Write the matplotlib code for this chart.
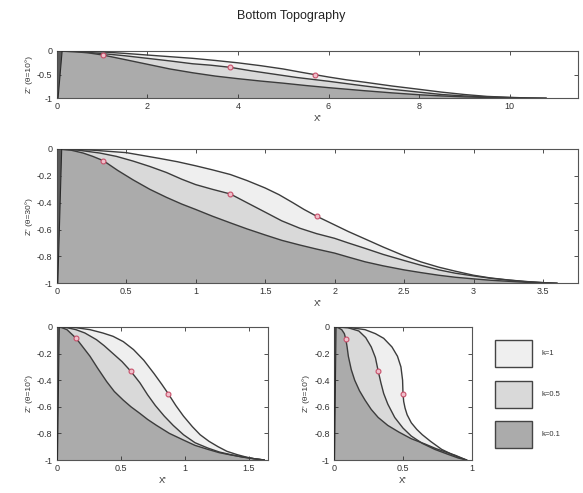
import matplotlib
matplotlib.use("Agg")
import matplotlib.pyplot as plt
from matplotlib.patches import Rectangle
from matplotlib.ticker import FuncFormatter

plt.rcParams['font.family'] = ['Liberation Sans', 'DejaVu Sans']
plt.rcParams['axes.unicode_minus'] = False

# ---------------- data ----------------
title = "Bottom Topography"
k_labels = ["k=1", "k=0.5", "k=0.1"]
ylabels = ["Z' (θ=10°)", "Z' (θ=30°)", "Z' (θ=10°)", "Z' (θ=10°)"]
xlabel = "X'"

# panel 1 (theta = 10 deg)
p1_k1_x = [0, 0.6, 1.0, 1.5, 2.0, 2.5, 3.0, 3.5, 4.0, 4.5, 5.0, 5.4, 5.7, 6.0, 6.4, 6.8, 7.4, 8.0, 8.5, 9.0, 9.5, 10.0, 10.4, 10.8]
p1_k1_z = [0, -0.008, -0.02, -0.05, -0.085, -0.12, -0.155, -0.2, -0.25, -0.31, -0.38, -0.45, -0.5, -0.55, -0.61, -0.66, -0.74, -0.81, -0.87, -0.92, -0.96, -0.98, -0.993, -1]
p1_k05_x = [0, 0.5, 0.96, 1.5, 2.0, 2.5, 3.0, 3.4, 3.83, 4.3, 4.8, 5.3, 6.0, 6.8, 7.4, 8.0, 8.5, 9.0, 9.5, 10.0, 10.4, 10.8]
p1_k05_z = [0, -0.015, -0.05, -0.1, -0.155, -0.21, -0.27, -0.30, -0.345, -0.42, -0.49, -0.56, -0.64, -0.74, -0.81, -0.87, -0.92, -0.95, -0.97, -0.985, -0.995, -1]
p1_k01_x = [0, 0.4, 0.7, 1.02, 1.5, 2.0, 2.5, 3.0, 3.5, 4.0, 4.5, 5.0, 5.5, 6.0, 6.8, 7.4, 8.0, 8.5, 9.0, 9.5, 10.0, 10.4, 10.8]
p1_k01_z = [0, -0.015, -0.04, -0.085, -0.18, -0.28, -0.38, -0.46, -0.53, -0.585, -0.635, -0.68, -0.73, -0.775, -0.84, -0.885, -0.925, -0.95, -0.97, -0.983, -0.992, -0.997, -1]
p1_mark_x = [5.7, 3.83, 1.02]
p1_mark_z = [-0.5, -0.345, -0.085]
p1_wall_x = [0, 0.12, 0.03, 0]
p1_wall_z = [0, 0, -1, -1]

# panel 2 (theta = 30 deg)
p2_k1_x = [0, 0.25, 0.5, 0.74, 0.87, 1.0, 1.12, 1.25, 1.37, 1.5, 1.6, 1.7, 1.78, 1.87, 2.0, 2.1, 2.22, 2.35, 2.5, 2.62, 2.75, 2.87, 3.0, 3.12, 3.25, 3.37, 3.5, 3.6]
p2_k1_z = [0, -0.008, -0.027, -0.07, -0.095, -0.125, -0.155, -0.19, -0.235, -0.29, -0.34, -0.40, -0.45, -0.5, -0.565, -0.615, -0.67, -0.73, -0.795, -0.84, -0.88, -0.91, -0.94, -0.96, -0.975, -0.986, -0.995, -1]
p2_k05_x = [0, 0.15, 0.31, 0.43, 0.55, 0.67, 0.79, 0.9, 1.0, 1.12, 1.25, 1.37, 1.5, 1.62, 1.75, 1.87, 2.0, 2.1, 2.22, 2.35, 2.5, 2.62, 2.75, 2.87, 3.0, 3.12, 3.25, 3.37, 3.5, 3.6]
p2_k05_z = [0, -0.008, -0.03, -0.055, -0.09, -0.13, -0.175, -0.225, -0.265, -0.3, -0.335, -0.4, -0.47, -0.535, -0.59, -0.63, -0.665, -0.7, -0.74, -0.785, -0.83, -0.865, -0.9, -0.925, -0.945, -0.962, -0.976, -0.987, -0.995, -1]
p2_k01_x = [0, 0.1, 0.19, 0.26, 0.336, 0.44, 0.55, 0.67, 0.79, 0.9, 1.0, 1.12, 1.25, 1.37, 1.5, 1.62, 1.75, 1.87, 2.0, 2.1, 2.22, 2.35, 2.5, 2.62, 2.75, 2.87, 3.0, 3.12, 3.25, 3.37, 3.5, 3.6]
p2_k01_z = [0, -0.008, -0.03, -0.055, -0.087, -0.16, -0.23, -0.3, -0.36, -0.41, -0.45, -0.5, -0.55, -0.595, -0.64, -0.68, -0.715, -0.745, -0.775, -0.805, -0.84, -0.87, -0.9, -0.92, -0.94, -0.955, -0.967, -0.977, -0.985, -0.992, -0.997, -1]
p2_mark_x = [1.87, 1.25, 0.336]
p2_mark_z = [-0.5, -0.335, -0.087]
p2_wall_x = [0, 0.036, 0.008, 0]
p2_wall_z = [0, 0, -1, -1]

# panel 3 (bottom left)
p3_k1_x = [0, 0.15, 0.26, 0.36, 0.44, 0.52, 0.6, 0.68, 0.76, 0.82, 0.87, 0.93, 0.99, 1.06, 1.12, 1.19, 1.26, 1.33, 1.41, 1.48, 1.54, 1.62]
p3_k1_z = [0, -0.005, -0.02, -0.045, -0.07, -0.11, -0.17, -0.25, -0.35, -0.43, -0.5, -0.59, -0.67, -0.75, -0.81, -0.86, -0.9, -0.935, -0.96, -0.978, -0.99, -1]
p3_k05_x = [0, 0.08, 0.15, 0.22, 0.31, 0.37, 0.44, 0.51, 0.58, 0.65, 0.71, 0.77, 0.84, 0.91, 0.99, 1.08, 1.18, 1.27, 1.36, 1.45, 1.54, 1.62]
p3_k05_z = [0, -0.005, -0.02, -0.045, -0.095, -0.14, -0.2, -0.26, -0.334, -0.42, -0.51, -0.59, -0.67, -0.74, -0.81, -0.87, -0.91, -0.94, -0.96, -0.978, -0.99, -1]
p3_k01_x = [0, 0.04, 0.08, 0.15, 0.2, 0.26, 0.32, 0.39, 0.45, 0.52, 0.58, 0.65, 0.71, 0.78, 0.88, 0.99, 1.08, 1.18, 1.27, 1.36, 1.45, 1.54, 1.62]
p3_k01_z = [0, -0.005, -0.02, -0.083, -0.145, -0.22, -0.31, -0.41, -0.485, -0.55, -0.6, -0.65, -0.695, -0.74, -0.8, -0.85, -0.89, -0.92, -0.945, -0.962, -0.977, -0.99, -1]
p3_mark_x = [0.87, 0.58, 0.15]
p3_mark_z = [-0.5, -0.334, -0.083]
p3_wall_x = [0, 0.02, 0.006, 0]
p3_wall_z = [0, 0, -1, -1]

# panel 4 (bottom right)
p4_k1_x = [0, 0.12, 0.225, 0.3, 0.36, 0.42, 0.46, 0.485, 0.497, 0.5, 0.505, 0.515, 0.53, 0.56, 0.6, 0.64, 0.7, 0.78, 0.86, 0.92, 0.96]
p4_k1_z = [0, -0.005, -0.02, -0.05, -0.085, -0.15, -0.22, -0.3, -0.40, -0.5, -0.56, -0.61, -0.66, -0.72, -0.77, -0.81, -0.86, -0.92, -0.96, -0.985, -1]
p4_k05_x = [0, 0.1, 0.18, 0.23, 0.27, 0.3, 0.32, 0.34, 0.36, 0.39, 0.44, 0.5, 0.56, 0.64, 0.73, 0.82, 0.9, 0.96]
p4_k05_z = [0, -0.005, -0.03, -0.08, -0.15, -0.23, -0.33, -0.42, -0.5, -0.58, -0.68, -0.76, -0.82, -0.875, -0.92, -0.955, -0.985, -1]
p4_k01_x = [0, 0.03, 0.056, 0.075, 0.085, 0.095, 0.104, 0.125, 0.15, 0.185, 0.225, 0.27, 0.32, 0.39, 0.47, 0.56, 0.66, 0.74, 0.81, 0.88, 0.96]
p4_k01_z = [0, -0.005, -0.02, -0.05, -0.088, -0.15, -0.22, -0.32, -0.40, -0.48, -0.55, -0.62, -0.68, -0.74, -0.79, -0.84, -0.88, -0.915, -0.94, -0.965, -1]
p4_mark_x = [0.5, 0.32, 0.085]
p4_mark_z = [-0.5, -0.33, -0.088]
p4_wall_x = [0, 0.015, 0.004, 0]
p4_wall_z = [0, 0, -1, -1]

p1_xticks = [0, 2, 4, 6, 8, 10]
p2_xticks = [0, 0.5, 1, 1.5, 2, 2.5, 3, 3.5]
p3_xticks = [0, 0.5, 1, 1.5]
p4_xticks = [0, 0.5, 1]
p1_yticks = [-1, -0.5, 0]
pz_yticks = [-1, -0.8, -0.6, -0.4, -0.2, 0]
xlims = [11.5, 3.75, 1.65, 1.0]

# ---------------- style ----------------
fill_cols = ["#efefef", "#d9d9d9", "#ababab"]
line_col = "#3c3c3c"
mark_face = "#f0c0cc"
mark_edge = "#c8506a"

W, H = 583, 493
fig = plt.figure(figsize=(W / 100, H / 100), dpi=100)


def rect(l, t, r, b):
    return [l / W, 1 - b / H, (r - l) / W, (b - t) / H]


panels = [
    (rect(56.7, 51, 577.7, 98.3), (p1_k1_x, p1_k1_z), (p1_k05_x, p1_k05_z), (p1_k01_x, p1_k01_z),
     (p1_mark_x, p1_mark_z), (p1_wall_x, p1_wall_z), p1_xticks, p1_yticks),
    (rect(56.7, 149, 577.7, 283.3), (p2_k1_x, p2_k1_z), (p2_k05_x, p2_k05_z), (p2_k01_x, p2_k01_z),
     (p2_mark_x, p2_mark_z), (p2_wall_x, p2_wall_z), p2_xticks, pz_yticks),
    (rect(56.7, 327, 268, 460), (p3_k1_x, p3_k1_z), (p3_k05_x, p3_k05_z), (p3_k01_x, p3_k01_z),
     (p3_mark_x, p3_mark_z), (p3_wall_x, p3_wall_z), p3_xticks, pz_yticks),
    (rect(334, 327, 472, 460), (p4_k1_x, p4_k1_z), (p4_k05_x, p4_k05_z), (p4_k01_x, p4_k01_z),
     (p4_mark_x, p4_mark_z), (p4_wall_x, p4_wall_z), p4_xticks, pz_yticks),
]

fmt = FuncFormatter(lambda v, p: ("%g" % v))

for i, (pos, c1, c05, c01, mk, wall, xt, yt) in enumerate(panels):
    ax = fig.add_axes(pos)
    for (cx, cz), col in zip([c1, c05, c01], fill_cols):
        px = list(cx) + [cx[-1], 0]
        pz = list(cz) + [-1, -1]
        ax.fill(px, pz, facecolor=col, edgecolor="none", zorder=1)
    for (cx, cz) in [c1, c05, c01]:
        ax.plot(cx, cz, color=line_col, lw=1.0, zorder=3, solid_joinstyle="round")
    ax.fill(wall[0], wall[1], facecolor="#5a5a5a", edgecolor="#2a2a2a", lw=0.8, zorder=4)
    ax.plot(mk[0], mk[1], linestyle="none", marker="o", ms=3.5, mfc=mark_face,
            mec=mark_edge, mew=0.8, zorder=5)
    ax.set_xlim(0, xlims[i])
    ax.set_ylim(-1, 0)
    ax.set_xticks(xt)
    ax.set_yticks(yt)
    ax.xaxis.set_major_formatter(fmt)
    ax.yaxis.set_major_formatter(fmt)
    ax.tick_params(direction="in", top=True, right=True, length=3, width=0.6,
                   labelsize=6.5, colors="#333333", pad=3)
    for s in ax.spines.values():
        s.set_color("#555555")
        s.set_linewidth(0.8)
    ax.set_xlabel(xlabel, fontsize=6.5, color="#333333", labelpad=2)
    ax.set_ylabel(ylabels[i], fontsize=6, color="#333333", labelpad=3)

fig.text(0.5, 1 - 16 / H, title, ha="center", va="center", fontsize=9, color="#222222")

# legend
lax = fig.add_axes([0, 0, 1, 1])
lax.set_xlim(0, W)
lax.set_ylim(H, 0)
lax.axis("off")
box_tops = [340, 381, 421]
for top, lab, col in zip(box_tops, k_labels, fill_cols):
    lax.add_patch(Rectangle((495, top), 37, 27, facecolor=col, edgecolor="#444444", lw=1.0))
    lax.text(541, top + 13.5, lab, fontsize=5.5, va="center", ha="left", color="#333333")

fig.savefig("out.png", dpi=100)
